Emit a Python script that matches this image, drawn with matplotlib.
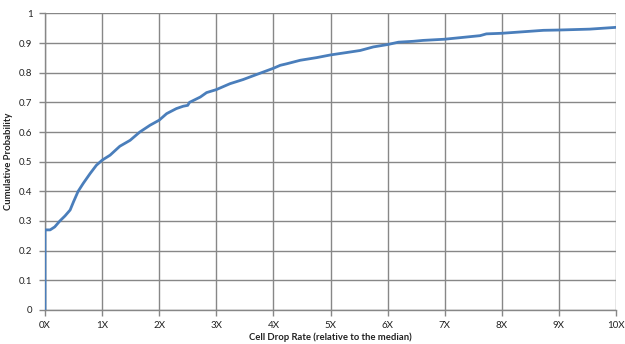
import matplotlib
matplotlib.use('Agg')
import matplotlib.pyplot as plt

# CDF (x in multiples of the median)
drop_rate = [0.0, 0.0, 0.09, 0.17, 0.26, 0.35, 0.44, 0.50, 0.58, 0.67, 0.79, 0.90,
             1.00, 1.14, 1.31, 1.49, 1.66, 1.84, 2.00, 2.13, 2.30, 2.42, 2.50, 2.53,
             2.72, 2.83, 3.00, 3.24, 3.47, 3.65, 4.00, 4.12, 4.23, 4.47, 4.76, 5.00,
             5.28, 5.52, 5.75, 6.00, 6.19, 6.45, 6.62, 7.00, 7.62, 7.73, 8.00, 8.73,
             9.00, 9.54, 10.0]
cum_prob = [0.0, 0.27, 0.27, 0.28, 0.30, 0.317, 0.337, 0.365, 0.40, 0.427, 0.46, 0.488,
            0.505, 0.522, 0.552, 0.572, 0.60, 0.623, 0.64, 0.662, 0.679, 0.687, 0.69, 0.70,
            0.718, 0.733, 0.743, 0.763, 0.777, 0.79, 0.815, 0.825, 0.83, 0.842, 0.851, 0.86,
            0.868, 0.875, 0.887, 0.895, 0.903, 0.906, 0.909, 0.913, 0.925, 0.931, 0.933, 0.943,
            0.944, 0.947, 0.953]

x_ticks = list(range(11))
x_labels = [f"{i}X" for i in x_ticks]
y_ticks = [i / 10 for i in range(11)]
y_labels = ["0", "0.1", "0.2", "0.3", "0.4", "0.5", "0.6", "0.7", "0.8", "0.9", "1"]

plt.rcParams['font.family'] = ['Lato', 'DejaVu Sans']

fig = plt.figure(figsize=(6.25, 3.44), dpi=100)
ax = fig.add_axes([0.072, 0.099, 0.9136, 0.862])

grid_color = '#878787'
ax.plot(drop_rate, cum_prob, color='#4a7ebb', lw=2.0, solid_joinstyle='round', zorder=3)

ax.set_xlim(0, 10)
ax.set_ylim(0, 1)
ax.set_xticks(x_ticks)
ax.set_xticklabels(x_labels)
ax.set_yticks(y_ticks)
ax.set_yticklabels(y_labels)
ax.grid(True, color=grid_color, lw=1.0)
ax.set_axisbelow(True)

for side in ['top', 'right']:
    ax.spines[side].set_visible(False)
for side in ['left', 'bottom']:
    ax.spines[side].set_color(grid_color)
    ax.spines[side].set_linewidth(1.0)

ax.tick_params(axis='both', colors=grid_color, length=4, width=1.0, labelsize=7,
               labelcolor='#222222')
ax.tick_params(axis='x', pad=4)
ax.tick_params(axis='y', pad=5)

ax.set_xlabel('Cell Drop Rate (relative to the median)', fontsize=6.8, fontweight='bold',
              color='#222222', labelpad=2)
ax.set_ylabel('Cumulative Probability', fontsize=6.8, fontweight='bold',
              color='#222222', labelpad=4)

fig.savefig('out.png', dpi=100)
